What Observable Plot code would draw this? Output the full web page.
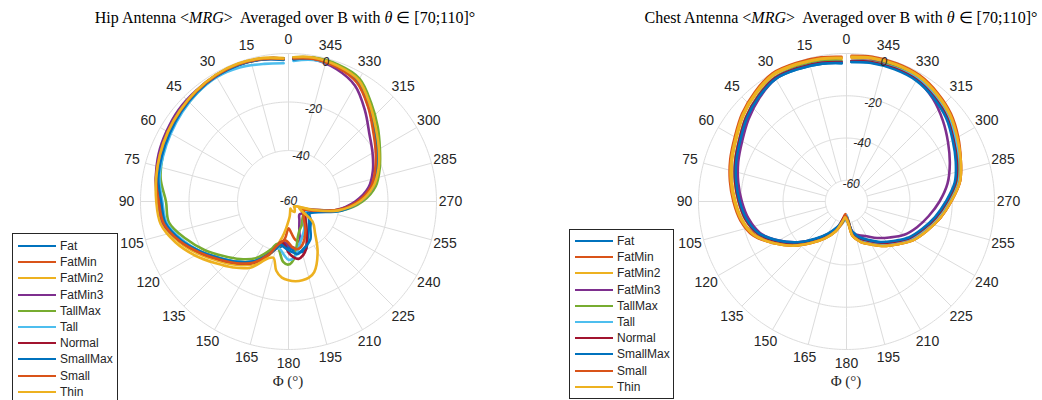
<!DOCTYPE html>
<html><head><meta charset="utf-8">
<script src="https://cdn.jsdelivr.net/npm/d3@7"></script>
<script src="https://cdn.jsdelivr.net/npm/@observablehq/plot@0.6"></script>
<style>
body{margin:0;background:#fff;}
#wrap{position:relative;width:1042px;height:400px;overflow:hidden;font-family:Arial,"Liberation Sans",sans-serif;color:#262626;}
.title{position:absolute;top:8px;font-family:"Liberation Serif","Times New Roman",serif;font-size:16px;color:#000;white-space:nowrap;transform:translateX(-50%);}
.xl{position:absolute;top:373px;font-family:"Liberation Serif","Times New Roman",serif;font-size:15px;color:#262626;white-space:nowrap;transform:translateX(-50%);}
.plot{position:absolute;top:1px;}
.legend{position:absolute;background:#fff;border:1px solid #262626;z-index:5;}
.legend .row{position:absolute;left:0;height:14px;white-space:nowrap;font-size:12px;line-height:14px;}
.legend .sw{position:absolute;left:5px;top:6px;width:38px;height:0;border-top:2.6px solid;}
.legend .tx{position:absolute;left:47px;top:0;}
</style></head>
<body><div id="wrap"></div>
<script>
// ---------- data ----------
const phi = [2,10,20,30,40,50,60,70,80,90,100,110,120,130,140,150,160,165,170,175,180,185,190,195,200,210,220,230,240,250,260,270,280,290,300,310,320,330,340,350,358];
const seriesNames = ["Fat","FatMin","FatMin2","FatMin3","TallMax","Tall","Normal","SmallMax","Small","Thin"];
const seriesColors = ["#0072BD","#D95319","#EDB120","#7E2F8E","#77AC30","#4DBEEE","#A2142F","#0072BD","#D95319","#EDB120"];
const thetaTicks = [0,15,30,45,60,75,90,105,120,135,150,165,180,195,210,225,240,255,270,285,300,315,330,345];
const hipRTicks = [-60,-40,-20,0];
const chestRTicks = [-60,-40,-20,0];

// Hip antenna (dB)
const hipFat      = [-2.2,-1.3,-0.9,-1.2,-2.0,-3.2,-4.3,-5.3,-6.3,-8.5,-9.5,-14.0,-19.5,-24.5,-28.5,-32.5,-38.5,-41,-42,-43,-42,-41,-40,-39.5,-40,-45,-48,-50,-52,-49,-40,-32.5,-26.5,-22.5,-19,-15,-9.5,-4,-2,-1.2,-2];
const hipFatMin   = [-2.0,-1.2,-0.8,-1.0,-1.8,-2.8,-3.5,-4.5,-5.5,-7.2,-8.5,-13.0,-18.5,-23.5,-27.5,-31.5,-38,-41,-43,-46,-50,-48,-45,-44,-45,-47,-50,-53,-55,-51,-41,-33,-26.5,-22.5,-19.2,-15,-9.8,-4.2,-2,-1.0,-1.8];
const hipFatMin2  = [-1.8,-1.0,-0.6,-1.0,-1.8,-2.8,-3.8,-4.8,-5.8,-7.5,-8.5,-12.8,-18.0,-23.0,-27.0,-31.0,-37.5,-42,-46,-50,-53,-55,-57,-58,-57,-56,-57,-58,-57,-52,-41,-32,-25.5,-22,-18.5,-14.5,-9,-3.5,-1.6,-0.9,-1.6];
const hipFatMin3  = [-2.0,-1.2,-0.8,-1.0,-1.5,-2.0,-3.0,-4.0,-5.5,-7.0,-8.5,-13.5,-19.0,-24.0,-28.0,-32.0,-38.5,-42,-44,-44,-43,-42,-41.5,-43,-48,-52,-54,-53.5,-54,-51,-41,-33.5,-27.5,-24,-21,-17.5,-12,-6,-3,-1.6,-2.2];
const hipTallMax  = [-2.0,-1.3,-1.0,-1.5,-2.5,-3.5,-4.5,-5.8,-7.5,-10.5,-11.0,-16.0,-21.0,-26.0,-30.0,-34.0,-40,-43,-40,-36,-35,-37,-42,-46,-48,-50,-52,-53,-54,-50,-39,-30.5,-24.5,-21,-17.5,-13,-8,-2.5,-1.0,-0.8,-1.5];
const hipTall     = [-4.0,-3.4,-2.2,-1.8,-2.6,-3.8,-5.0,-6.0,-7.0,-9.0,-10.0,-14.5,-19.5,-24.5,-28.5,-32.5,-38,-41,-41,-39,-37,-37.5,-40,-43,-45,-48,-51,-52,-53,-50,-39.5,-31.5,-25.5,-22,-18.5,-14.5,-9,-3.5,-2,-1.8,-3.0];
const hipNormal   = [-2.4,-1.5,-1.0,-1.3,-2.0,-3.0,-4.0,-5.0,-6.0,-8.0,-9.0,-13.5,-19.0,-24.0,-28.0,-32.0,-38,-41,-44,-43,-40,-38,-37,-38,-40,-46,-50,-52,-54,-50,-40,-32,-26,-22.5,-19,-15,-9.5,-4,-2,-1.2,-2.2];
const hipSmallMax = [-2.6,-1.6,-1.1,-1.4,-2.2,-3.3,-4.5,-5.5,-6.5,-8.5,-9.5,-14.0,-19.5,-24.5,-28.5,-32.5,-38,-41,-43,-42,-41,-40,-39,-40,-41,-43,-47,-49,-51,-48,-39,-31.5,-25.5,-22,-18.5,-14.5,-9.2,-3.8,-1.8,-1.2,-2.4];
const hipSmall    = [-2.2,-1.3,-0.8,-1.1,-1.8,-2.8,-3.6,-4.6,-5.6,-7.5,-8.8,-13.3,-18.8,-23.8,-27.8,-31.8,-38,-42,-44,-45,-44,-42,-41,-41.5,-43,-47,-51,-53,-54,-50,-40.5,-32.5,-26.5,-23,-19.5,-15.5,-10,-4.5,-2.2,-1.3,-2.0];
const hipThin     = [-2.0,-1.0,-0.5,-0.8,-1.6,-2.6,-3.6,-4.6,-5.6,-6.5,-7.5,-11.5,-16.5,-21.5,-25.5,-29.5,-36,-37,-32,-29.5,-28.5,-28,-28,-28.5,-30,-37,-44,-48,-56,-51,-40,-31.5,-25.5,-21.5,-18,-14,-8.8,-3.2,-1.5,-0.8,-1.5];

// Chest antenna (dB)
const chestFat      = [-4.5,-3.8,-3.3,-3.0,-5.5,-8.5,-12,-14.5,-17,-19.5,-22,-25.5,-32,-39,-46,-51.5,-56,-58,-60,-63.5,-61,-60,-55.5,-53.5,-51.5,-48.5,-44.5,-40.5,-35.5,-31.5,-27,-22.5,-17.5,-14.5,-11.5,-8,-5.5,-3.5,-3,-3.2,-4];
const chestFatMin   = [-2.0,-1.3,-0.8,-0.5,-3.0,-6.0,-9.5,-12,-14.5,-17,-19.5,-24,-31,-38,-45,-50.5,-55.5,-59,-62.5,-64,-63,-61,-54,-52,-50,-47,-43,-39,-34,-30,-25,-20.5,-15.5,-12.5,-9.5,-6,-3.5,-1.5,-1,-1,-1.5];
const chestFatMin2  = [-2.5,-1.8,-1.3,-1.0,-3.5,-6.5,-10,-12.5,-15,-17.5,-20,-23.5,-30.5,-37.5,-44.5,-50,-55,-58,-60,-62,-61.5,-59,-53.5,-51.5,-49.5,-46.5,-42.5,-38.5,-33.5,-29.5,-25.5,-21,-16,-13,-10,-6.5,-4,-2,-1.5,-1.5,-2];
const chestFatMin3  = [-4.0,-3.3,-2.8,-3.0,-6.0,-9.5,-13,-15.5,-18,-20.5,-23,-26.5,-33,-40,-46.5,-52,-56.5,-59,-62,-62.5,-63,-60,-56,-54,-53,-51,-47.5,-43.5,-38.5,-34.5,-30.5,-26,-21.5,-18,-14.5,-10.5,-6.5,-3.5,-2.5,-2.5,-3.5];
const chestTallMax  = [-3.5,-2.8,-2.3,-2.3,-4.8,-8,-11.5,-14,-16.5,-19,-21.5,-25.5,-32.5,-39.5,-46,-51.5,-56,-59,-61.5,-62,-63,-61,-54.5,-52,-50,-47,-43.5,-40,-35.5,-31.5,-27,-22,-16.5,-13.5,-10.5,-7.5,-5,-3,-2.5,-2.8,-3.5];
const chestTall     = [-4.0,-3.3,-2.8,-2.5,-5.0,-8,-11.5,-14,-16.5,-19,-21.5,-25.5,-32.5,-39.5,-46.5,-52,-56.5,-59.5,-61,-62,-63.5,-60.5,-55,-53,-51,-48,-44,-39.5,-34.5,-30,-25.5,-21,-16,-13,-10.5,-7.5,-5,-3,-2.8,-3,-3.8];
const chestNormal   = [-4.0,-3.3,-2.8,-2.5,-5.0,-8,-11.5,-14,-16.5,-19,-21.5,-25.5,-32.5,-39.5,-46.5,-52,-56.5,-59.5,-62,-63,-62,-60.5,-55.5,-53.5,-51.5,-48.5,-44.5,-40.5,-35.5,-31.5,-27,-22.5,-17.5,-14.5,-11.5,-8,-5.5,-3.5,-3,-3,-3.5];
const chestSmallMax = [-4.5,-3.8,-3.3,-3.0,-5.5,-8.5,-12,-14.5,-17,-19.5,-22,-26,-33,-40,-47,-52.5,-57,-59,-60.5,-62,-62.5,-60,-56,-54,-52,-49,-45,-41,-36,-32,-27.5,-23,-18,-15,-12,-8.5,-6,-4,-3.5,-3.5,-4];
const chestSmall    = [-1.5,-0.8,-0.3,0.0,-2.5,-5.5,-9,-11.5,-14,-16.5,-19,-23,-30.5,-37.5,-44.5,-50,-55,-58,-61,-63.5,-62.5,-60,-53.5,-51.5,-49.5,-46.5,-42.5,-38.5,-33.5,-29.5,-25,-20.5,-15.5,-12.5,-9,-5.5,-3,-1,-0.5,-0.5,-1];
const chestThin     = [-2.0,-1.3,-0.8,-0.5,-3.0,-6.0,-9.5,-12,-14.5,-17,-19.5,-23.5,-30.5,-37.5,-44.5,-50,-55,-58.5,-61,-62.5,-61.5,-59.5,-53.5,-51.5,-49.5,-46.5,-42.5,-38.5,-33.5,-29.5,-25,-20.5,-15.5,-12.5,-9.5,-6,-3.5,-1.5,-1,-1,-1.5];

const hipSeries = [hipFat,hipFatMin,hipFatMin2,hipFatMin3,hipTallMax,hipTall,hipNormal,hipSmallMax,hipSmall,hipThin];
const chestSeries = [chestFat,chestFatMin,chestFatMin2,chestFatMin3,chestTallMax,chestTall,chestNormal,chestSmallMax,chestSmall,chestThin];

// ---------- drawing ----------
const GRID = "#dcdcdc", INK = "#262626";
const D = 90;          // angular radius (deg) of the polar domain on the sphere
const R_PX = 148;      // outer circle radius in px (400 - 2*52)/2

function polarChart(seriesList, rMin, rMax, rTicks, spokeFrom) {
  const lat = v => 90 - (v - rMin) / (rMax - rMin) * D;
  const lon = a => a - 180;            // 0 at top, counter-clockwise
  const rows = [];
  seriesList.forEach((vals, k) => vals.forEach((v, i) => rows.push({name: seriesNames[k], phi: phi[i], db: v})));
  const ringGeo = rTicks.filter(t => t > rMin).map(t => d3.geoCircle().center([0, 90]).radius(90 - lat(t)).precision(1)());
  const labelLat = 90 - D * (R_PX + 14) / R_PX;
  const rLabelShift = D * 3.5 / R_PX;
  return Plot.plot({
    width: 400, height: 400, margin: 52,
    style: {background: "transparent", overflow: "visible"},
    projection: {type: "azimuthal-equidistant", rotate: [0, -90], clip: false, domain: d3.geoCircle().center([0, 90]).radius(D)()},
    color: {domain: seriesNames, range: seriesColors},
    marks: [
      Plot.geo(ringGeo, {stroke: GRID, fill: "none", strokeWidth: 1}),
      Plot.link(thetaTicks, {x1: a => lon(a), y1: () => lat(spokeFrom), x2: a => lon(a), y2: () => lat(rMax), stroke: GRID, strokeWidth: 1}),
      Plot.line(rows, {x: d => lon(d.phi), y: d => lat(d.db), z: "name", stroke: "name", strokeWidth: 2.6, curve: "catmull-rom"}),
      Plot.text(thetaTicks, {x: a => lon(a), y: () => labelLat, text: a => String(a), fontSize: 14, fill: INK, fontFamily: "Arial, Liberation Sans, sans-serif"}),
      Plot.text(rTicks, {x: () => lon(345), y: t => Math.min(90, lat(t) + rLabelShift), text: t => String(t), fontSize: 12, fontStyle: "italic", fill: INK, fontFamily: "Arial, Liberation Sans, sans-serif"})
    ]
  });
}

const wrap = document.getElementById("wrap");
function addPlot(svg, left) {
  svg.classList.add("plot");
  svg.style.left = left + "px";
  wrap.appendChild(svg);
}
addPlot(polarChart(hipSeries, -61, 0, hipRTicks, -40), 88);
addPlot(polarChart(chestSeries, -70, 0, chestRTicks, -60), 646);

function addHTML(cls, html, left, top) {
  const d = document.createElement("div");
  d.className = cls; d.innerHTML = html; d.style.left = left + "px";
  if (top != null) d.style.top = top + "px";
  wrap.appendChild(d); return d;
}
addHTML("title", "Hip Antenna &lt;<i>MRG</i>&gt;&nbsp; Averaged over B with <i>θ</i> ∈ [70;110]°", 285);
addHTML("title", "Chest Antenna &lt;<i>MRG</i>&gt;&nbsp; Averaged over B with <i>θ</i> ∈ [70;110]°", 841);
addHTML("xl", "Φ (°)", 288);
addHTML("xl", "Φ (°)", 846);

function addLegend(left, top, width, height, first) {
  const box = document.createElement("div");
  box.className = "legend";
  Object.assign(box.style, {left: left + "px", top: top + "px", width: width + "px", height: height + "px"});
  seriesNames.forEach((n, i) => {
    const r = document.createElement("div");
    r.className = "row";
    r.style.top = (first + i * 16.2) + "px";
    r.innerHTML = `<span class="sw" style="border-color:${seriesColors[i]}"></span><span class="tx">${n}</span>`;
    box.appendChild(r);
  });
  wrap.appendChild(box);
}
addLegend(12, 233, 104, 175, 5);
addLegend(569, 229, 103, 168, 4);
</script></body></html>
